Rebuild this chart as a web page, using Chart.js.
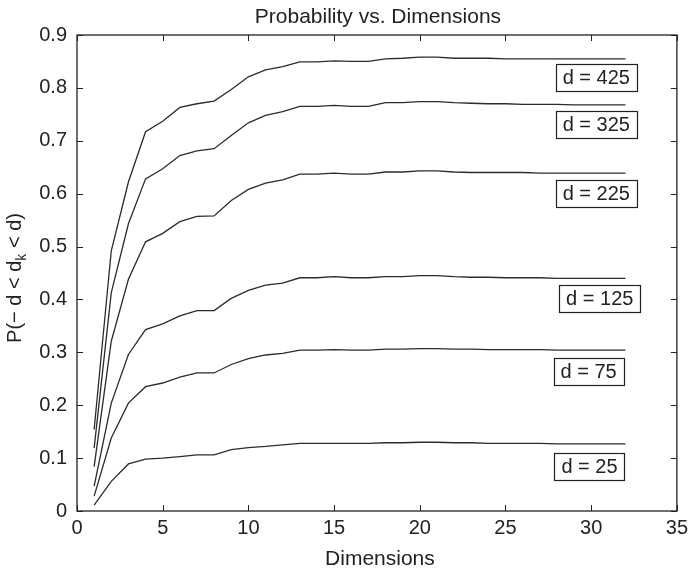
<!DOCTYPE html>
<html>
<head>
<meta charset="utf-8">
<script src="https://cdn.jsdelivr.net/npm/chart.js@4/dist/chart.umd.min.js"></script>
<style>
  html, body { margin: 0; padding: 0; background: #fff; }
  #wrap { width: 693px; height: 574px; }
</style>
</head>
<body>
<div id="wrap"><canvas id="c" width="693" height="574"></canvas></div>
<script>
// Dimensions (x values)
const dims = [1,2,3,4,5,6,7,8,9,10,11,12,13,14,15,16,17,18,19,20,21,22,23,24,25,26,27,28,29,30,31,32];

// Series values
const d425 = [0.154,0.492,0.622,0.717,0.737,0.763,0.770,0.775,0.797,0.821,0.834,0.840,0.849,0.849,0.851,0.850,0.850,0.855,0.856,0.858,0.858,0.856,0.856,0.856,0.855,0.855,0.855,0.855,0.855,0.855,0.855,0.855];
const d325 = [0.119,0.413,0.543,0.628,0.647,0.672,0.681,0.685,0.710,0.734,0.748,0.755,0.765,0.765,0.767,0.765,0.765,0.772,0.772,0.774,0.774,0.772,0.771,0.770,0.770,0.769,0.769,0.769,0.768,0.768,0.768,0.768];
const d225 = [0.084,0.321,0.438,0.509,0.525,0.547,0.557,0.558,0.587,0.608,0.620,0.626,0.637,0.637,0.639,0.637,0.637,0.641,0.641,0.643,0.643,0.641,0.640,0.640,0.640,0.640,0.639,0.639,0.639,0.639,0.639,0.639];
const d125 = [0.047,0.204,0.296,0.343,0.354,0.369,0.379,0.379,0.402,0.417,0.427,0.431,0.441,0.441,0.443,0.441,0.441,0.443,0.443,0.445,0.445,0.443,0.442,0.442,0.441,0.441,0.441,0.440,0.440,0.440,0.440,0.440];
const d75  = [0.028,0.138,0.204,0.235,0.242,0.253,0.261,0.261,0.277,0.288,0.295,0.298,0.304,0.304,0.305,0.304,0.304,0.306,0.306,0.307,0.307,0.306,0.306,0.305,0.305,0.305,0.305,0.304,0.304,0.304,0.304,0.304];
const d25  = [0.011,0.056,0.089,0.098,0.100,0.103,0.106,0.106,0.116,0.120,0.122,0.125,0.128,0.128,0.128,0.128,0.128,0.129,0.129,0.130,0.130,0.129,0.129,0.128,0.128,0.128,0.128,0.127,0.127,0.127,0.127,0.127];

// Series labels and their anchor points (data units: dimension, probability)
const seriesNames = ["d = 425","d = 325","d = 225","d = 125","d = 75","d = 25"];
const labelX = [30.3, 30.3, 30.3, 30.5, 29.85, 29.9];
const labelY = [0.820, 0.731, 0.601, 0.402, 0.264, 0.085];

// Tick labels
const xTicks = [0,5,10,15,20,25,30,35];
const yTicks = [0,0.1,0.2,0.3,0.4,0.5,0.6,0.7,0.8,0.9];
const yTickLabels = ["0","0.1","0.2","0.3","0.4","0.5","0.6","0.7","0.8","0.9"];

const titleText = "Probability vs. Dimensions";
const xTitle = "Dimensions";

const allSeries = [d425, d325, d225, d125, d75, d25];
const FONT = "'Liberation Sans', Arial, Helvetica, sans-serif";

const datasets = allSeries.map((vals, i) => ({
  label: seriesNames[i],
  data: dims.map((x, j) => ({x: x, y: vals[j]})),
  borderColor: '#2b2b2b',
  borderWidth: 1.3,
  pointRadius: 0,
  tension: 0,
  fill: false
}));

const decorPlugin = {
  id: 'decor',
  afterDraw(chart) {
    const ctx = chart.ctx;
    const a = chart.chartArea;
    const xs = chart.scales.x, ys = chart.scales.y;
    ctx.save();
    // box
    ctx.strokeStyle = '#222';
    ctx.lineWidth = 1.3;
    ctx.strokeRect(a.left, a.top, a.right - a.left, a.bottom - a.top);
    // inward ticks
    const tl = 6;
    ctx.beginPath();
    xTicks.forEach(v => {
      const px = Math.round(xs.getPixelForValue(v)) + 0.5;
      ctx.moveTo(px, a.bottom); ctx.lineTo(px, a.bottom - tl);
      ctx.moveTo(px, a.top); ctx.lineTo(px, a.top + tl);
    });
    yTicks.forEach(v => {
      const py = Math.round(ys.getPixelForValue(v)) + 0.5;
      ctx.moveTo(a.left, py); ctx.lineTo(a.left + tl, py);
      ctx.moveTo(a.right, py); ctx.lineTo(a.right - tl, py);
    });
    ctx.lineWidth = 1;
    ctx.stroke();

    // title
    ctx.fillStyle = '#222';
    ctx.font = "21px " + FONT;
    ctx.textAlign = 'center';
    ctx.textBaseline = 'alphabetic';
    ctx.fillText(titleText, (a.left + a.right) / 2 + 1, 23);

    // x title
    ctx.fillText(xTitle, (a.left + a.right) / 2 + 3, 565);

    // y title with subscript, rotated
    ctx.save();
    ctx.translate(21, 278);
    ctx.rotate(-Math.PI / 2);
    const p1 = "P(\u2212 d < d", sub = "k", p2 = " < d)";
    ctx.font = "20px " + FONT;
    const w1 = ctx.measureText(p1).width;
    const w3 = ctx.measureText(p2).width;
    ctx.font = "14px " + FONT;
    const w2 = ctx.measureText(sub).width;
    const total = w1 + w2 + w3;
    let x0 = -total / 2;
    ctx.textAlign = 'left';
    ctx.font = "20px " + FONT;
    ctx.fillText(p1, x0, 0);
    ctx.font = "14px " + FONT;
    ctx.fillText(sub, x0 + w1, 5);
    ctx.font = "20px " + FONT;
    ctx.fillText(p2, x0 + w1 + w2, 0);
    ctx.restore();

    // boxed series labels
    ctx.font = "20px " + FONT;
    ctx.textAlign = 'center';
    ctx.textBaseline = 'middle';
    seriesNames.forEach((name, i) => {
      const cx = xs.getPixelForValue(labelX[i]);
      const cy = ys.getPixelForValue(labelY[i]);
      const w = ctx.measureText(name).width + 14;
      const h = 27;
      ctx.fillStyle = '#fff';
      ctx.fillRect(cx - w / 2, cy - h / 2, w, h);
      ctx.strokeStyle = '#222';
      ctx.lineWidth = 1.2;
      ctx.strokeRect(Math.round(cx - w / 2) + 0.5, Math.round(cy - h / 2) + 0.5, Math.round(w), h);
      ctx.fillStyle = '#222';
      ctx.fillText(name, cx, cy + 1);
    });
    ctx.restore();
  }
};

new Chart(document.getElementById('c'), {
  type: 'line',
  data: { datasets: datasets },
  options: {
    responsive: false,
    animation: false,
    events: [],
    layout: { padding: { top: 35, right: 14, left: 0, bottom: 0 } },
    plugins: { legend: { display: false }, title: { display: false }, tooltip: { enabled: false } },
    scales: {
      x: {
        type: 'linear',
        min: 0, max: 35,
        afterFit: s => { s.height = 63; },
        afterBuildTicks: s => { s.ticks = xTicks.map(v => ({value: v})); },
        grid: { display: false, drawTicks: false },
        border: { display: false },
        ticks: { color: '#222', font: { size: 20, family: FONT }, padding: 5, maxRotation: 0,
                 callback: v => String(v) }
      },
      y: {
        type: 'linear',
        min: 0, max: 0.9,
        afterFit: s => { s.width = 77; },
        afterBuildTicks: s => { s.ticks = yTicks.map(v => ({value: v})); },
        grid: { display: false, drawTicks: false },
        border: { display: false },
        ticks: { color: '#222', font: { size: 20, family: FONT }, padding: 10,
                 callback: (v) => { const i = yTicks.findIndex(t => Math.abs(t - v) < 1e-9); return i >= 0 ? yTickLabels[i] : ''; } }
      }
    }
  },
  plugins: [decorPlugin]
});
</script>
</body>
</html>
